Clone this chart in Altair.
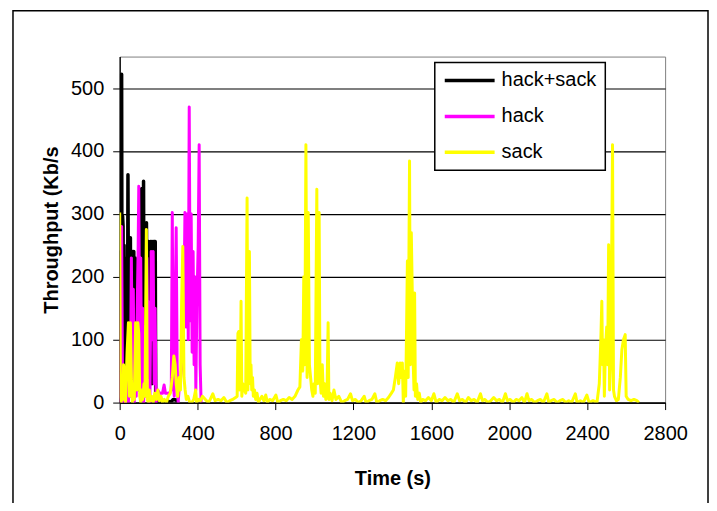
import altair as alt
import pandas as pd

series_names = ["hack+sack", "hack", "sack"]
series_colors = ["#000000", "#ff00ff", "#ffff00"]
series_widths = [3.5, 3, 3]
x_ticks = [0, 400, 800, 1200, 1600, 2000, 2400, 2800]
y_ticks = [0, 100, 200, 300, 400, 500]

# hack+sack
hs_t = [0, 2.5, 5, 7.5, 10, 12.5, 15, 17.5, 20, 22.5,
        25, 27.5, 30, 32.5, 35, 37.5, 40, 42.5, 45, 47.5,
        50, 52.5, 55, 57.5, 60, 62.5, 65, 67.5, 70, 72.5,
        75, 77.5, 80, 82.5, 85, 87.5, 90, 92.5, 95, 97.5,
        100, 102.5, 105, 107.5, 110, 112.5, 115, 117.5, 120, 122.5,
        125, 127.5, 130, 132.5, 135, 137.5, 140, 142.5, 145, 147.5,
        150, 152.5, 155, 157.5, 160, 162.5, 165, 167.5, 170, 172.5,
        175, 177.5, 180, 182.5, 185, 190,
        200, 215, 230, 245, 260, 275, 290, 300]
hs_v = [0, 60, 240, 100, 522, 30, 296, 280, 60, 250,
        120, 10, 200, 20, 180, 230, 60, 362, 150, 20,
        240, 100, 262, 40, 220, 10, 200, 240, 60, 240,
        20, 180, 230, 20, 150, 30, 200, 80, 40, 170,
        20, 200, 150, 300, 60, 340, 120, 250, 30, 352,
        90, 200, 20, 280, 120, 286, 60, 230, 140, 256,
        40, 250, 100, 256, 180, 256, 30, 230, 256, 256,
        120, 256, 256, 256, 5, 0,
        0, 5, 0, 3, 0, 5, 4, 0]

# hack
h_t = [0, 5, 10, 15, 20, 25, 30, 35, 40, 45,
       50, 55, 60, 65, 70, 75, 80, 85, 90, 95,
       98, 103, 108, 113, 118, 123, 128, 133, 140, 145,
       150, 155, 162, 167, 172, 177, 182, 187, 195, 205,
       220, 228, 235, 255, 265, 270, 275, 280, 285, 290,
       295, 300, 305, 320, 330, 335, 340, 348, 352, 357,
       362, 367, 372, 377, 382, 386, 391, 396, 403, 408,
       413, 418]
h_v = [0, 50, 280, 0, 10, 0, 20, 0, 60, 0,
       100, 20, 230, 40, 180, 0, 60, 10, 150, 250,
       344, 60, 230, 20, 150, 0, 120, 10, 230, 60,
       160, 0, 240, 100, 240, 30, 150, 0, 20, 15,
       15, 28, 15, 15, 20, 302, 40, 10, 150, 278,
       60, 0, 20, 60, 150, 302, 120, 300, 100, 470,
       130, 300, 80, 240, 60, 200, 20, 150, 250, 410,
       60, 0]

# sack
s_t = [0, 4, 8, 12, 16, 20, 25, 30, 38, 45,
       50, 55, 60, 65, 70, 75, 82, 88, 93, 98,
       103, 108, 113, 118, 125, 130, 137, 142, 147, 152,
       157, 165, 172, 180, 188, 196, 204, 212, 220, 230,
       240, 250, 260, 270, 278, 285, 290, 298, 305, 312,
       318, 324, 330, 336, 342, 350, 360, 370, 380, 390,
       395, 405, 415, 425, 440, 455, 465, 478, 490, 505,
       520, 535, 550, 565, 580, 595, 603, 607, 611, 615,
       619, 623, 627, 632, 640, 647, 654, 658, 662, 666,
       670, 674, 678, 682, 686, 692, 698, 705, 712, 720,
       730, 740, 750, 758, 770, 785, 802, 812, 825, 840,
       855, 870, 885, 900, 915, 925, 933, 940, 945, 950,
       956, 962, 968, 974, 980, 986, 992, 998, 1004, 1012,
       1016, 1020, 1024, 1028, 1034, 1040, 1046, 1052, 1058, 1064,
       1070, 1074, 1080, 1090, 1100, 1110, 1125, 1140, 1155, 1170,
       1185, 1195, 1210, 1225, 1240, 1255, 1265, 1280, 1295, 1310,
       1320, 1335, 1350, 1365, 1380, 1395, 1405, 1415, 1425, 1432,
       1440, 1446, 1451, 1456, 1462, 1468, 1472, 1477, 1481, 1488,
       1492, 1497, 1502, 1507, 1511, 1514, 1518, 1524, 1530, 1538,
       1545, 1555, 1570, 1585, 1600, 1613, 1625, 1640, 1655, 1670,
       1685, 1700, 1715, 1733, 1745, 1760, 1775, 1790, 1805, 1820,
       1835, 1852, 1862, 1875, 1890, 1905, 1920, 1935, 1950, 1965,
       1980, 1990, 2005, 2020, 2035, 2050, 2065, 2078, 2091, 2101,
       2115, 2130, 2145, 2160, 2175, 2193, 2203, 2215, 2230, 2245,
       2260, 2275, 2290, 2305, 2320, 2339, 2348, 2365, 2380, 2398,
       2410, 2430, 2450, 2462, 2470, 2475, 2479, 2484, 2488, 2493,
       2500, 2505, 2510, 2515, 2520, 2526, 2530, 2535, 2540, 2550,
       2560, 2570, 2578, 2586, 2595, 2600, 2610, 2625, 2640, 2655,
       2665]
s_v = [302, 10, 0, 20, 5, 60, 10, 0, 80, 127,
       10, 127, 40, 0, 20, 5, 127, 20, 127, 110,
       10, 0, 20, 5, 30, 10, 275, 5, 0, 20,
       3, 10, 0, 15, 5, 20, 3, 10, 0, 5,
       0, 10, 15, 40, 74, 60, 30, 10, 40, 20,
       160, 248, 40, 20, 5, 10, 0, 0, 5, 20,
       0, 5, 3, 10, 5, 0, 5, 14, 3, 5,
       3, 8, 0, 3, 5, 8, 10, 110, 113, 20,
       40, 161, 10, 30, 20, 15, 325, 20, 100, 240,
       30, 60, 20, 40, 10, 20, 5, 15, 0, 5,
       10, 3, 12, 0, 5, 3, 12, 0, 3, 5,
       3, 8, 5, 10, 20, 25, 100, 50, 200, 60,
       410, 40, 302, 60, 40, 20, 10, 30, 15, 339,
       30, 200, 302, 40, 15, 60, 10, 30, 5, 10,
       127, 5, 15, 3, 20, 5, 10, 0, 3, 5,
       14, 3, 5, 0, 3, 10, 0, 3, 5, 14,
       0, 3, 5, 3, 8, 15, 20, 40, 63, 30,
       63, 40, 63, 0, 50, 10, 100, 225, 40, 384,
       60, 270, 175, 60, 20, 174, 10, 30, 5, 15,
       0, 5, 3, 8, 3, 14, 0, 5, 3, 8,
       3, 5, 0, 14, 3, 5, 0, 8, 3, 5,
       0, 14, 3, 5, 0, 3, 8, 3, 5, 0,
       14, 3, 5, 0, 5, 3, 8, 0, 14, 3,
       5, 0, 3, 5, 0, 14, 0, 3, 5, 0,
       3, 5, 0, 3, 0, 14, 0, 3, 0, 12,
       0, 3, 0, 30, 100, 161, 60, 100, 10, 80,
       120, 60, 251, 20, 60, 250, 410, 20, 10, 3,
       5, 40, 84, 100, 108, 10, 5, 3, 5, 3,
       0]

rows = []
for name, ts, vs in [("hack+sack", hs_t, hs_v), ("hack", h_t, h_v), ("sack", s_t, s_v)]:
    for t, v in zip(ts, vs):
        rows.append({"series": name, "time": t, "kbps": v})
df = pd.DataFrame(rows)

FONT = "Liberation Sans"

color = alt.Color(
    "series:N",
    scale=alt.Scale(domain=series_names, range=series_colors),
    legend=alt.Legend(
        title=None,
        orient="none",
        legendX=316,
        legendY=6,
        symbolType="stroke",
        symbolSize=2500,
        symbolStrokeWidth=3.5,
        symbolOffset=0,
        clipHeight=20,
        rowPadding=16,
        padding=8,
        labelFontSize=20,
        labelFont=FONT,
        labelColor="black",
        labelOffset=5,
        strokeColor="black",
        fillColor="white",
    ),
)

x = alt.X(
    "time:Q",
    scale=alt.Scale(domain=[0, 2800], nice=False),
    axis=alt.Axis(values=x_ticks, grid=False, title="Time (s)", labelPadding=14,
                  titlePadding=25, labelFlush=False, format="d"),
)
y = alt.Y(
    "kbps:Q",
    scale=alt.Scale(domain=[0, 550], nice=False),
    axis=alt.Axis(values=y_ticks, grid=True, gridColor="black", gridWidth=1.2,
                  gridOpacity=1, title="Throughput (Kb/s", labelPadding=9,
                  titlePadding=9, format="d"),
)

layers = []
for n, w in zip(series_names, series_widths):
    layers.append(
        alt.Chart(df)
        .transform_filter(alt.datum.series == n)
        .mark_line(strokeWidth=w, strokeJoin="round", clip=True)
        .encode(x=x, y=y, color=color)
    )

frame = (
    alt.Chart(pd.DataFrame({"k": [0]}))
    .mark_rect(fillOpacity=0, stroke="black", strokeWidth=1.5)
    .encode(x=alt.value(-107), x2=alt.value(590), y=alt.value(-46), y2=alt.value(480))
)

chart = (
    alt.layer(frame, *layers)
    .properties(
        width=547,
        height=347,
        autosize=alt.AutoSizeParams(type="none"),
        padding={"left": 112, "top": 48, "right": 44, "bottom": 100},
        background="white",
    )
    .configure_view(stroke="#808080", strokeWidth=1)
    .configure_axis(
        labelFont=FONT,
        labelFontSize=20,
        labelColor="black",
        titleFont=FONT,
        titleFontSize=20,
        titleFontWeight="bold",
        titleColor="black",
        tickColor="black",
        tickSize=7,
        tickWidth=1,
        domainColor="black",
        domainWidth=1.3,
    )
    .configure_legend(strokeWidth=1.5)
)

chart.save("out.html", embed_options={"renderer": "svg", "actions": False})
